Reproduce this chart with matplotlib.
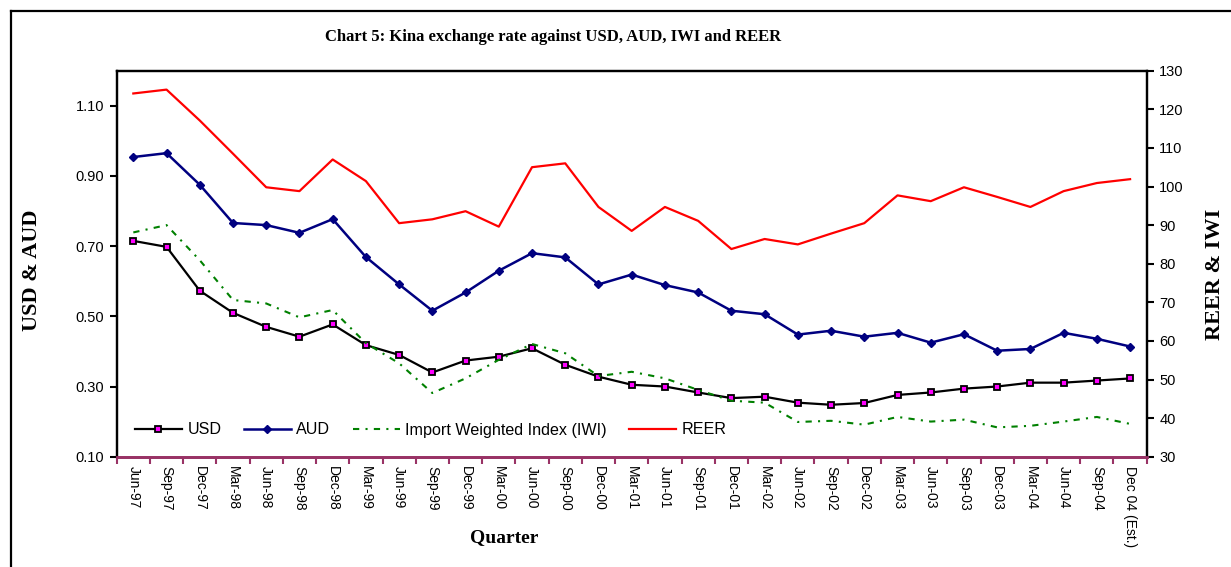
import matplotlib
matplotlib.use("Agg")
import matplotlib.pyplot as plt
from matplotlib.lines import Line2D

quarters = ["Jun-97", "Sep-97", "Dec-97", "Mar-98", "Jun-98", "Sep-98", "Dec-98",
            "Mar-99", "Jun-99", "Sep-99", "Dec-99", "Mar-00", "Jun-00", "Sep-00",
            "Dec-00", "Mar-01", "Jun-01", "Sep-01", "Dec-01", "Mar-02", "Jun-02",
            "Sep-02", "Dec-02", "Mar-03", "Jun-03", "Sep-03", "Dec-03", "Mar-04",
            "Jun-04", "Sep-04", "Dec 04 (Est.)"]

usd = [0.715, 0.698, 0.573, 0.510, 0.470, 0.442, 0.477, 0.418, 0.390, 0.340,
       0.374, 0.385, 0.409, 0.362, 0.328, 0.305, 0.300, 0.283, 0.267, 0.271,
       0.254, 0.248, 0.253, 0.276, 0.283, 0.294, 0.300, 0.311, 0.311, 0.317, 0.323]

aud = [0.954, 0.965, 0.875, 0.766, 0.760, 0.738, 0.777, 0.669, 0.591, 0.516,
       0.568, 0.630, 0.680, 0.668, 0.591, 0.619, 0.589, 0.568, 0.516, 0.506,
       0.448, 0.459, 0.442, 0.453, 0.425, 0.449, 0.402, 0.407, 0.453, 0.436, 0.414]

iwi = [88.1, 90.0, 80.9, 70.6, 69.7, 66.1, 68.0, 59.4, 54.2, 46.5,
       50.3, 55.1, 59.2, 56.8, 50.9, 52.0, 50.3, 47.3, 44.5, 44.0,
       39.0, 39.3, 38.3, 40.3, 39.1, 39.6, 37.6, 38.0, 39.1, 40.3, 38.5]

reer = [124.1, 125.1, 117.1, 108.5, 99.8, 98.8, 107.0, 101.4, 90.5, 91.5,
        93.6, 89.6, 105.0, 106.0, 94.7, 88.5, 94.7, 91.1, 83.8, 86.4,
        85.0, 87.8, 90.5, 97.7, 96.2, 99.8, 97.3, 94.7, 98.8, 100.9, 101.9]

left_ticks = [0.10, 0.30, 0.50, 0.70, 0.90, 1.10]
right_ticks = [30, 40, 50, 60, 70, 80, 90, 100, 110, 120, 130]

W, H = 1231, 567
fig = plt.figure(figsize=(W / 100, H / 100), dpi=100)
fig.patch.set_facecolor("white")

serif = ["Liberation Serif", "DejaVu Serif"]
sans = ["Liberation Sans", "DejaVu Sans"]

# outer border (left and top visible)
fig.add_artist(Line2D([11 / W, 11 / W], [0, 1 - 11 / H], transform=fig.transFigure,
                      color="black", lw=1.6))
fig.add_artist(Line2D([11 / W, 1], [1 - 11 / H, 1 - 11 / H], transform=fig.transFigure,
                      color="black", lw=1.6))

x0, x1, yt, yb = 116.7, 1146.7, 70.7, 456.7
ax = fig.add_axes([x0 / W, 1 - yb / H, (x1 - x0) / W, (yb - yt) / H])
ax2 = ax.twinx()

x = list(range(len(quarters)))

l_usd, = ax.plot(x, usd, color="black", lw=1.6, marker="s", markersize=4.5,
                 markerfacecolor="#ff00ff", markeredgecolor="black", markeredgewidth=1.3,
                 label="USD", zorder=4)
l_aud, = ax.plot(x, aud, color="#000080", lw=1.8, marker="D", markersize=3.8,
                 markerfacecolor="#000080", markeredgecolor="#000080",
                 label="AUD", zorder=4)
l_iwi, = ax2.plot(x, iwi, color="#008000", lw=1.5, linestyle=(0, (3, 3, 1, 3)),
                  label="Import Weighted Index (IWI)", zorder=3)
l_reer, = ax2.plot(x, reer, color="#ff0000", lw=1.6, label="REER", zorder=3)

ax.set_xlim(-0.5, len(quarters) - 0.5)
ax.set_ylim(0.10, 1.20)
ax2.set_ylim(30, 130)

ax.set_yticks(left_ticks)
ax.set_yticklabels([f"{v:.2f}" for v in left_ticks], fontfamily=sans, fontsize=10.5)
ax2.set_yticks(right_ticks)
ax2.set_yticklabels([str(v) for v in right_ticks], fontfamily=sans, fontsize=10.5)

ax.set_xticks(x)
ax.set_xticklabels(quarters, rotation=270, ha="center", va="top",
                   fontfamily=sans, fontsize=10)
ax.set_xticks([i - 0.5 for i in range(len(quarters) + 1)], minor=True)
ax.tick_params(axis="x", which="major", length=0, pad=7)
ax.tick_params(axis="x", which="minor", length=5, width=1.5, color="#993366",
               direction="out")
ax.tick_params(axis="y", length=5, width=1.5, color="black", direction="out", pad=4)
ax2.tick_params(axis="y", length=5, width=1.5, color="black", direction="out", pad=4)

for a in (ax, ax2):
    for s in ("left", "right", "top"):
        a.spines[s].set_color("black")
        a.spines[s].set_linewidth(1.6)
    a.spines["bottom"].set_color("#993366")
    a.spines["bottom"].set_linewidth(2.0)

# Labels
fig.text(553 / W, 1 - 37 / H, "Chart 5: Kina exchange rate against USD, AUD, IWI and REER",
         ha="center", va="center", fontfamily=serif, fontweight="bold", fontsize=12)
fig.text(504 / W, 1 - 538 / H, "Quarter", ha="center", va="center",
         fontfamily=serif, fontweight="bold", fontsize=14)
fig.text(32 / W, 1 - 270 / H, "USD & AUD", ha="center", va="center", rotation=90,
         fontfamily=serif, fontweight="bold", fontsize=16)
fig.text(1215 / W, 1 - 274 / H, "REER & IWI", ha="center", va="center", rotation=90,
         fontfamily=serif, fontweight="bold", fontsize=16)

leg = fig.legend(handles=[l_usd, l_aud, l_iwi, l_reer], loc="center left",
                 bbox_to_anchor=(135 / W, 1 - 430 / H), ncol=4, frameon=False,
                 borderpad=0, borderaxespad=0, handlelength=2.9, handletextpad=0.35,
                 columnspacing=1.4, prop={"family": sans, "size": 11.6})

fig.savefig("out.png", dpi=100)
